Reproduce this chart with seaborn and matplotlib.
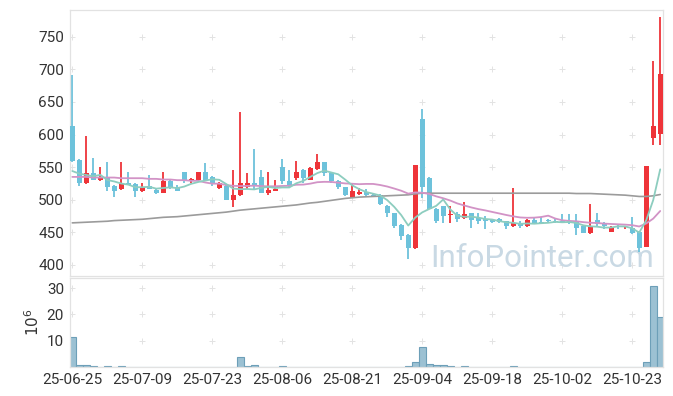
import numpy as np
import pandas as pd
import matplotlib
matplotlib.use("Agg")
import matplotlib.pyplot as plt
import seaborn as sns

# ---------------- data ----------------
holidays = ["2025-08-15", "2025-10-03", "2025-10-06", "2025-10-07", "2025-10-08", "2025-10-09"]
dates = pd.bdate_range("2025-06-25", "2025-10-29", freq="C", holidays=holidays)

open_ = [613, 561, 525, 541, 530, 533, 521, 516, 525, 524,
         514, 521, 515, 511, 529, 520, 542, 528, 530, 542,
         535, 518, 521, 499, 507, 520, 525, 535, 511, 514,
         550, 529, 534, 546, 531, 547, 558, 541, 529, 519,
         503, 509, 512, 508, 508, 491, 479, 461, 446, 426,
         624, 534, 486, 490, 476, 478, 472, 479, 472, 470,
         469, 470, 467, 459, 465, 459, 469, 466, 468, 468,
         468, 468, 468, 459, 449, 469, 465, 451, 459, 456,
         457, 451, 427, 594, 601]
high = [692, 563, 598, 564, 550, 558, 522, 558, 543, 526,
        525, 538, 516, 543, 530, 522, 542, 533, 542, 556,
        537, 527, 522, 545, 634, 541, 578, 546, 542, 531,
        562, 546, 560, 547, 550, 570, 558, 541, 530, 520,
        526, 518, 516, 509, 509, 492, 480, 462, 447, 554,
        639, 535, 487, 491, 490, 481, 496, 480, 479, 475,
        471, 472, 468, 518, 467, 470, 472, 474, 470, 472,
        478, 478, 478, 460, 494, 479, 466, 460, 462, 458,
        474, 452, 552, 713, 781]
low = [558, 521, 524, 530, 529, 513, 504, 515, 522, 504,
       512, 516, 509, 510, 516, 513, 525, 526, 528, 530,
       521, 517, 499, 489, 505, 517, 515, 511, 507, 513,
       524, 520, 531, 525, 530, 545, 536, 525, 517, 505,
       502, 508, 505, 505, 492, 474, 457, 438, 409, 425,
       502, 486, 464, 464, 464, 466, 470, 457, 463, 455,
       464, 464, 455, 458, 457, 458, 462, 463, 466, 465,
       465, 463, 446, 449, 448, 458, 455, 450, 455, 455,
       448, 420, 427, 584, 584]
close = [560, 525, 541, 531, 534, 520, 514, 525, 523, 514,
         520, 517, 511, 528, 519, 514, 529, 532, 542, 530,
         524, 525, 499, 507, 526, 525, 522, 511, 515, 517,
         529, 522, 543, 533, 548, 558, 541, 529, 519, 507,
         514, 512, 507, 506, 493, 479, 460, 444, 426, 554,
         519, 486, 468, 475, 478, 470, 478, 469, 468, 467,
         466, 466, 460, 464, 459, 469, 464, 464, 467, 466,
         466, 466, 457, 449, 458, 463, 459, 458, 458, 457,
         449, 426, 552, 613, 693]
volume_m = [11.5, 0.8, 0.8, 0.4, 0.1, 0.4, 0.1, 0.4, 0.1, 0.1,
            0.1, 0.1, 0.1, 0.1, 0.1, 0.1, 0.1, 0.1, 0.1, 0.1,
            0.1, 0.1, 0.1, 0.1, 3.8, 0.4, 0.8, 0.1, 0.1, 0.1,
            0.4, 0.1, 0.1, 0.1, 0.1, 0.1, 0.1, 0.1, 0.1, 0.1,
            0.1, 0.1, 0.1, 0.1, 0.1, 0.1, 0.1, 0.1, 0.4, 1.9,
            7.7, 1.2, 0.8, 0.8, 0.5, 0.1, 0.4, 0.1, 0.1, 0.1,
            0.1, 0.1, 0.1, 0.4, 0.1, 0.1, 0.1, 0.1, 0.1, 0.1,
            0.1, 0.1, 0.1, 0.1, 0.1, 0.1, 0.1, 0.1, 0.1, 0.1,
            0.1, 0.1, 1.9, 30.8, 19.0]
# moving averages before a full window is available
ma5_head = [544, 540, 538, 536]
ma20_head = [535, 535, 535, 534, 534, 534, 534, 533, 533, 533,
             533, 532, 532, 531, 531, 530, 530, 529, 529]
ma60 = [464.5, 465, 465.5, 466, 466.5, 467, 468, 468.5, 469, 469.5,
        470, 471, 472, 473, 473.5, 474, 475, 476, 477, 478,
        479, 480, 481, 482.5, 484, 485, 486, 487, 488, 489,
        490, 491, 492, 493.5, 495, 496, 497.5, 499, 500.5, 502,
        503, 504, 504.5, 505, 505.5, 506, 506.5, 507, 507.5, 509,
        510, 510, 510, 510, 510, 510, 510, 510, 510, 510,
        510, 510, 510, 510, 510, 510, 510, 510, 510, 510,
        510, 510, 509.5, 509.5, 509.5, 509, 508.5, 508, 507.5, 507,
        506, 505, 505, 506, 508]

price_ticks = [400, 450, 500, 550, 600, 650, 700, 750]
vol_ticks = [10, 20, 30]
xtick_idx = [0, 10, 20, 30, 40, 50, 60, 70, 80]

# ---------------- frame ----------------
df = pd.DataFrame({"date": dates, "open": open_, "high": high, "low": low,
                   "close": close, "volume": volume_m})
df["x"] = np.arange(len(df))
ma5 = df["close"].rolling(5).mean()
ma5.iloc[:len(ma5_head)] = ma5_head
ma20 = df["close"].rolling(20).mean()
ma20.iloc[:len(ma20_head)] = ma20_head
df["ma5"] = ma5
df["ma20"] = ma20
df["ma60"] = ma60

sns.set_theme(style="white")
plt.rcParams["font.family"] = ["Roboto", "DejaVu Sans"]

RED = "#ee3439"
BLUE = "#6dc2db"
W, H = 673, 396
fig = plt.figure(figsize=(W / 100, H / 100), dpi=100)
L, R = 69.5, 663
ax = fig.add_axes([L / W, 1 - 276 / H, (R - L) / W, (276 - 10) / H])
axv = fig.add_axes([L / W, 1 - 367 / H, (R - L) / W, (367 - 278) / H], sharex=ax)

up = df["close"] >= df["open"]
colors = np.where(up, RED, BLUE)
body_lo = np.minimum(df["open"], df["close"])
body_h = np.maximum(np.abs(df["close"] - df["open"]), 1.2)

# grid "+" markers
gx, gy = np.meshgrid(xtick_idx, price_ticks)
ax.scatter(gx.ravel(), gy.ravel(), marker="+", s=18, color="#e3e3e3", linewidths=0.7, zorder=0)
gx2, gy2 = np.meshgrid(xtick_idx, vol_ticks)
axv.scatter(gx2.ravel(), gy2.ravel(), marker="+", s=18, color="#e3e3e3", linewidths=0.7, zorder=0)

ax.vlines(df["x"], df["low"], df["high"], colors=colors, linewidth=1.3, zorder=2)
ax.bar(df["x"], body_h, bottom=body_lo, width=0.74, color=colors, linewidth=0, zorder=3)

sns.lineplot(data=df, x="x", y="ma60", ax=ax, color="#9b9b9b", linewidth=1.2, zorder=4)
sns.lineplot(data=df, x="x", y="ma20", ax=ax, color="#d293c6", linewidth=1.3, zorder=4)
sns.lineplot(data=df, x="x", y="ma5", ax=ax, color="#8dcdbf", linewidth=1.3, zorder=5)

ax.text(0.985, 0.012, "InfoPointer.com", transform=ax.transAxes, ha="right", va="bottom",
        fontsize=22.5, color="#c9d9e4", zorder=1)

axv.bar(df["x"], df["volume"], width=1.0, color="#9cc1d3", edgecolor="#6d9fb8",
        linewidth=0.8, zorder=2)

ax.set_xlim(-0.4, 84.4)
ax.set_ylim(383, 791)
axv.set_ylim(0, 33.8)
ax.set_yticks(price_ticks)
axv.set_yticks(vol_ticks)
axv.set_xticks(xtick_idx)
axv.set_xticklabels([dates[i].strftime("%y-%m-%d") for i in xtick_idx])
plt.setp(ax.get_xticklabels(), visible=False)
for a in (ax, axv):
    a.set_xlabel("")
    a.set_ylabel("")
    a.tick_params(length=0, labelsize=11, colors="#333333", pad=4)
    for s in a.spines.values():
        s.set_color("#e2e2e2")
        s.set_linewidth(0.9)
axv.text(-0.062, 0.5, "$10^6$", transform=axv.transAxes, rotation=90, ha="center",
         va="center", fontsize=11, color="#333333")

fig.savefig("out.png", dpi=100)
